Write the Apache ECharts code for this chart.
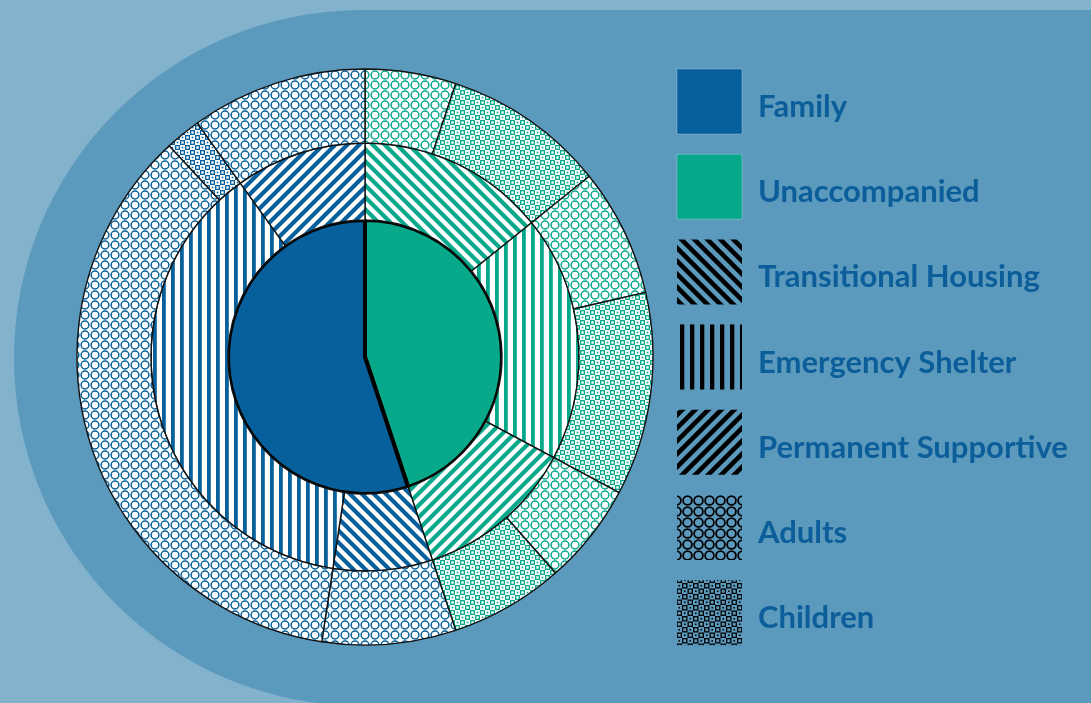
<!DOCTYPE html>
<html>
<head>
<meta charset="utf-8">
<script src="https://cdn.jsdelivr.net/npm/echarts@6/dist/echarts.min.js"></script>
<style>
html, body { margin: 0; padding: 0; width: 1091px; height: 703px; overflow: hidden; background: #82b2cc; }
#panel { position: absolute; left: 14px; top: 10px; width: 1100px; height: 696px; background: #5b9abd; border-radius: 348px 0 0 348px; }
#chart { position: absolute; left: 0; top: 0; width: 1091px; height: 703px; }
</style>
</head>
<body>
<div id="panel"></div>
<div id="chart"></div>
<script>
// shares of all people, in percent
var groups = ["Unaccompanied", "Family"];
var housingTypes = ["Transitional Housing", "Emergency Shelter", "Permanent Supportive"];
var ageGroups = ["Adults", "Children"];
var unaccompaniedAdults = [5.1, 7.2, 5.7];
var unaccompaniedChildren = [9.1, 11.4, 6.4];
var familyAdults = [7.5, 35.7, 9.9];
var familyChildren = [0, 2.0, 0];
var legendLabels = ["Family", "Unaccompanied", "Transitional Housing", "Emergency Shelter", "Permanent Supportive", "Adults", "Children"];

var BLUE = "#07609c";
var GREEN = "#08a88b";

// small canvas tiles used as fills
function tile(w, h, draw) {
  var c = document.createElement("canvas");
  c.width = w;
  c.height = h;
  draw(c.getContext("2d"), w, h);
  return { image: c, repeat: "repeat" };
}

function stripes(color, bg, dir, p, lw) {
  return tile(p, p, function (ctx) {
    if (bg) { ctx.fillStyle = bg; ctx.fillRect(0, 0, p, p); }
    if (dir === "vert") {
      ctx.fillStyle = color;
      ctx.fillRect(0, 0, lw, p);
      return;
    }
    ctx.strokeStyle = color;
    ctx.lineWidth = lw;
    ctx.beginPath();
    for (var k = -1; k <= 1; k++) {
      if (dir === "back") { ctx.moveTo(k * p - 2, -2); ctx.lineTo(k * p + p + 2, p + 2); }
      else { ctx.moveTo(k * p - 2, p + 2); ctx.lineTo(k * p + p + 2, -2); }
    }
    ctx.stroke();
  });
}

function rings(color, bg, p, r, lw) {
  return tile(p, p, function (ctx) {
    if (bg) { ctx.fillStyle = bg; ctx.fillRect(0, 0, p, p); }
    ctx.strokeStyle = color;
    ctx.lineWidth = lw;
    ctx.beginPath();
    ctx.arc(p / 2, p / 2, r, 0, Math.PI * 2);
    ctx.stroke();
  });
}

function squares(color, bg, p, lw) {
  var s = p / 2;
  return tile(p, p, function (ctx) {
    if (bg) { ctx.fillStyle = bg; ctx.fillRect(0, 0, p, p); }
    ctx.strokeStyle = color;
    ctx.lineWidth = lw;
    ctx.strokeRect(lw / 2, lw / 2, s - lw, s - lw);
    ctx.strokeRect(s + lw / 2, s + lw / 2, s - lw, s - lw);
    ctx.fillStyle = color;
    ctx.fillRect(s + s / 2 - 0.8, s / 2 - 0.8, 1.6, 1.6);
    ctx.fillRect(s / 2 - 0.8, s + s / 2 - 0.8, 1.6, 1.6);
  });
}

function fillsFor(color) {
  return {
    housing: [
      stripes(color, "#fff", "back", 12, 4.2),
      stripes(color, "#fff", "vert", 9, 3.8),
      stripes(color, "#fff", "fwd", 12, 4.2)
    ],
    ages: [rings(color, "#fff", 10, 3.9, 1.5), squares(color, "#fff", 10, 1.3)]
  };
}

var groupColors = { Unaccompanied: GREEN, Family: BLUE };
var groupValues = {
  Unaccompanied: [unaccompaniedAdults, unaccompaniedChildren],
  Family: [familyAdults, familyChildren]
};

var data = groups.map(function (g) {
  var f = fillsFor(groupColors[g]);
  var vals = groupValues[g];
  return {
    name: g,
    itemStyle: { color: groupColors[g] },
    children: housingTypes.map(function (h, i) {
      var kids = [];
      ageGroups.forEach(function (a, j) {
        if (vals[j][i] > 0) kids.push({ name: a, value: vals[j][i], itemStyle: { color: f.ages[j] } });
      });
      return { name: h, itemStyle: { color: f.housing[i] }, children: kids };
    })
  };
});

// legend swatches
var legendFills = [
  BLUE,
  GREEN,
  stripes("#000", null, "back", 13, 4.6),
  stripes("#000", null, "vert", 10, 4.3),
  stripes("#000", null, "fwd", 13, 4.6),
  rings("#000", null, 11, 4.4, 1.8),
  squares("#000", null, 11, 1.3)
];
var legendGraphics = [];
legendLabels.forEach(function (name, i) {
  var y = 69 + i * 85.2;
  legendGraphics.push({
    type: "rect",
    shape: { x: 677, y: y, width: 65, height: 65 },
    style: { fill: legendFills[i], stroke: i < 2 ? "rgba(255,255,255,0.25)" : null, lineWidth: 1 }
  });
  legendGraphics.push({
    type: "text",
    style: {
      x: 758, y: y + 38, text: name, fill: "#0b5e9a",
      fontFamily: "Lato", fontWeight: "bold", fontSize: 31, verticalAlign: "middle"
    }
  });
});

var chart = echarts.init(document.getElementById("chart"));
chart.setOption({
  animation: false,
  graphic: legendGraphics,
  series: [{
    type: "sunburst",
    center: [365, 357],
    startAngle: 90,
    clockwise: true,
    sort: null,
    nodeClick: false,
    label: { show: false },
    emphasis: { disabled: true },
    data: data,
    levels: [
      {},
      { radius: [0, 137], itemStyle: { borderColor: "#000", borderWidth: 4 } },
      { radius: [137, 214], itemStyle: { borderColor: "#111", borderWidth: 1.4 } },
      { radius: [214, 288], itemStyle: { borderColor: "#111", borderWidth: 1.4 } }
    ]
  }]
});
</script>
</body>
</html>
